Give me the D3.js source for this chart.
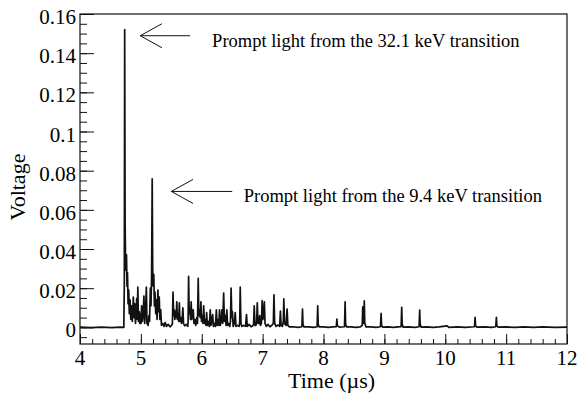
<!DOCTYPE html>
<html>
<head>
<meta charset="utf-8">
<script src="https://cdn.jsdelivr.net/npm/d3@7"></script>
<style>
body { margin: 0; background: #fff; }
svg text { font-family: "Liberation Serif"; fill: #000; }
</style>
</head>
<body>
<script>
// waveform: [time in us, voltage]
var trace = [
  [4.00,0.0001],[4.18,-0.0001],[4.35,0.0001],[4.52,-0.0001],[4.66,0.0001],[4.72,0.0],
  [4.728,0.022],[4.734,0.152],[4.741,0.054],[4.748,0.034],[4.756,0.029],[4.764,0.037],[4.772,0.021],[4.780,0.028],
  [4.790,0.012],[4.800,0.019],[4.810,0.007],[4.822,0.014],[4.835,0.004],[4.848,0.011],[4.860,0.003],[4.876,0.0155],
  [4.888,0.005],[4.900,0.012],[4.912,0.002],[4.922,0.009],[4.932,0.0147],[4.942,0.004],[4.950,0.0205],[4.960,0.003],
  [4.972,0.008],[4.982,0.002],[4.992,0.007],[5.002,0.002],[5.012,0.011],[5.024,0.003],[5.036,0.006],[5.050,0.016],
  [5.062,0.002],[5.076,0.008],[5.090,0.0205],[5.100,0.002],[5.118,0.001],[5.132,0.006],[5.142,0.003],[5.156,0.020],
  [5.166,0.011],[5.176,0.026],[5.186,0.0758],[5.194,0.030],[5.202,0.021],[5.212,0.027],[5.222,0.011],[5.232,0.018],
  [5.244,0.007],[5.256,0.014],[5.266,0.004],[5.280,0.019],[5.290,0.008],[5.302,0.0155],[5.312,0.004],[5.326,0.009],
  [5.338,0.001],[5.360,0.002],[5.380,0.0005],[5.400,0.0025],[5.420,0.0005],[5.450,0.0015],[5.480,0.0003],[5.505,0.001],
  [5.518,0.002],[5.528,0.018],[5.538,0.006],[5.548,0.009],[5.558,0.004],[5.568,0.008],[5.578,0.005],[5.590,0.013],
  [5.600,0.004],[5.612,0.007],[5.622,0.003],[5.632,0.0125],[5.642,0.003],[5.655,0.005],[5.668,0.002],[5.682,0.006],
  [5.690,0.010],[5.700,0.002],[5.720,0.0008],[5.750,0.0015],[5.770,0.0005],
  [5.776,0.003],[5.784,0.026],[5.794,0.007],[5.806,0.010],[5.816,0.004],[5.826,0.013],[5.836,0.004],[5.848,0.007],
  [5.860,0.009],[5.872,0.002],[5.888,0.004],[5.902,0.001],[5.918,0.005],[5.930,0.002],[5.942,0.025],[5.952,0.006],
  [5.964,0.009],[5.976,0.005],[5.986,0.013],[5.996,0.003],[6.010,0.006],[6.020,0.002],[6.032,0.011],[6.044,0.002],
  [6.058,0.004],[6.070,0.001],[6.080,0.0075],[6.092,0.001],[6.110,0.003],[6.124,0.0005],[6.140,0.009],[6.152,0.001],
  [6.166,0.003],[6.180,0.0065],[6.192,0.0005],[6.210,0.002],[6.225,0.0005],[6.240,0.009],[6.252,0.001],[6.268,0.004],
  [6.280,0.001],[6.292,0.009],[6.304,0.001],[6.318,0.003],[6.332,0.009],[6.344,0.002],[6.360,0.0175],[6.372,0.003],
  [6.388,0.006],[6.400,0.001],[6.412,0.009],[6.424,0.001],[6.440,0.002],[6.460,0.0005],[6.472,0.003],[6.482,0.020],
  [6.494,0.005],[6.504,0.008],[6.516,0.0005],[6.535,0.002],[6.550,0.0075],[6.562,0.0005],[6.590,0.001],[6.615,0.0005],
  [6.624,0.003],[6.632,0.0205],[6.644,0.002],[6.660,0.0005],[6.690,0.001],[6.720,0.0005],[6.735,0.0065],[6.748,0.0005],
  [6.780,0.0015],[6.810,0.0003],[6.840,0.0008],[6.852,0.002],[6.862,0.011],[6.874,0.001],[6.890,0.001],[6.902,0.003],
  [6.912,0.0125],[6.924,0.002],[6.940,0.002],[6.952,0.006],[6.964,0.001],[6.980,0.002],[6.992,0.0136],[7.004,0.004],
  [7.016,0.006],[7.028,0.013],[7.040,0.002],[7.060,0.0005],[7.090,0.0015],[7.120,0.0003],[7.150,0.001],[7.176,0.002],
  [7.186,0.0166],[7.198,0.002],[7.220,0.0005],[7.250,0.0012],[7.280,0.0005],[7.292,0.0083],[7.304,0.001],[7.325,0.0005],
  [7.340,0.003],[7.348,0.0145],[7.360,0.002],[7.385,0.001],[7.402,0.0093],[7.414,0.001],[7.440,0.0002],[7.500,0.0003],
  [7.580,0.0],[7.645,0.0003],[7.655,0.0093],[7.663,0.0015],[7.680,0.0002],[7.760,0.0002],[7.840,0.0],
  [7.895,0.0003],[7.905,0.011],[7.913,0.0015],[7.930,0.0002],[8.000,0.0002],[8.080,0.0],[8.150,0.0002],
  [8.210,0.0003],[8.220,0.0042],[8.228,0.0008],[8.260,0.0001],[8.345,0.0003],[8.355,0.013],[8.363,0.0015],[8.380,0.0002],
  [8.450,0.0002],[8.530,0.0],[8.600,0.0002],[8.636,0.001],[8.645,0.0105],[8.652,0.003],[8.662,0.002],[8.670,0.0135],
  [8.678,0.002],[8.700,0.0002],[8.780,0.0002],[8.860,0.0],[8.936,0.0003],[8.946,0.0071],[8.954,0.001],[8.975,0.0001],
  [9.060,0.0002],[9.150,0.0],[9.220,0.0002],[9.275,0.0003],[9.285,0.0102],[9.293,0.0015],[9.310,0.0001],[9.400,0.0002],
  [9.500,0.0],[9.570,0.0003],[9.580,0.0088],[9.588,0.0015],[9.605,0.0001],[9.700,0.0002],[9.800,0.0],[9.900,0.0002],
  [10.030,0.0008],[10.060,0.0],[10.200,0.0002],[10.330,0.0],[10.480,0.0003],[10.490,0.0051],[10.498,0.0008],
  [10.520,0.0001],[10.650,0.0002],[10.760,0.0],[10.830,0.0003],[10.840,0.0051],[10.848,0.0008],[10.870,0.0001],
  [11.000,0.0002],[11.150,0.0],[11.300,0.0002],[11.450,0.0],[11.600,0.0002],[11.800,0.0],[12.00,0.0001]
];

var xTickValues = [4, 5, 6, 7, 8, 9, 10, 11, 12];
var yTickValues = [0, 0.02, 0.04, 0.06, 0.08, 0.1, 0.12, 0.14, 0.16];
var yTickLabels = ["0", "0.02", "0.04", "0.06", "0.08", "0.1", "0.12", "0.14", "0.16"];

// arrows: tip and tail in data coordinates, text start in data coordinates
var notes = [
  {tip: 4.99, tail: 5.81, v: 0.1489, textX: 6.17, text: "Prompt light from the 32.1 keV transition"},
  {tip: 5.5, tail: 6.5, v: 0.0694, textX: 6.69, text: "Prompt light from the 9.4 keV transition"}
];

var margin = {top: 14, right: 12, bottom: 52, left: 80},
    width = 579 - margin.left - margin.right,
    height = 396 - margin.top - margin.bottom;

var svg = d3.select("body").append("svg")
    .attr("width", 579)
    .attr("height", 396);
var canvas = svg.append("g")
    .attr("transform", `translate(${margin.left},${margin.top})`);

var x = d3.scaleLinear().domain([4, 12]).range([0, width]);
var y = d3.scaleLinear().domain([-0.0085, 0.16]).range([height, 0]);

canvas.append("clipPath").attr("id", "frameClip")
  .append("rect").attr("width", width).attr("height", height);

// the trace
var line = d3.line()
    .x(function (d) { return x(d[0]); })
    .y(function (d) { return y(d[1]); });
canvas.append("path")
    .datum(trace)
    .attr("clip-path", "url(#frameClip)")
    .attr("d", line)
    .attr("fill", "none")
    .attr("stroke", "#111")
    .attr("stroke-width", 1.7)
    .attr("stroke-linejoin", "round");

// ticks drawn inside the frame, ROOT style (labels added separately below)
canvas.append("g")
    .call(d3.axisLeft(y).tickValues(d3.range(-0.005, 0.1601, 0.005)).tickSize(-7).tickSizeOuter(0).tickFormat(""));
canvas.append("g")
    .attr("transform", `translate(0,${height})`)
    .call(d3.axisBottom(x).tickValues(d3.range(4, 12.001, 0.2)).tickSize(-5).tickSizeOuter(0).tickFormat(""));
canvas.append("g")
    .call(d3.axisLeft(y).tickValues(yTickValues).tickSize(-14).tickSizeOuter(0).tickFormat(""));
canvas.append("g")
    .attr("transform", `translate(0,${height})`)
    .call(d3.axisBottom(x).tickValues(xTickValues).tickSize(-10).tickSizeOuter(0).tickFormat(""));
canvas.selectAll(".domain").remove();
canvas.selectAll(".tick line").attr("stroke", "#111");
canvas.selectAll(".tick text").remove();

// tick labels
canvas.selectAll(".ylab").data(yTickValues).enter().append("text")
    .attr("class", "ylab")
    .attr("x", -4)
    .attr("y", function (d) { return y(d) + 10; })
    .attr("text-anchor", "end")
    .style("font-size", "21px")
    .text(function (d, i) { return yTickLabels[i]; });
canvas.selectAll(".xlab").data(xTickValues).enter().append("text")
    .attr("class", "xlab")
    .attr("x", function (d) { return x(d); })
    .attr("y", height + 21)
    .attr("text-anchor", "middle")
    .style("font-size", "21px")
    .text(function (d) { return d; });

// frame
canvas.append("rect")
    .attr("width", width)
    .attr("height", height)
    .attr("fill", "none")
    .attr("stroke", "#111")
    .attr("stroke-width", 1.2);

// axis titles
canvas.append("text")
    .attr("x", 208)
    .attr("y", height + 44)
    .style("font-size", "22px")
    .text("Time (\u00b5s)");
canvas.append("text")
    .attr("transform", "rotate(-90)")
    .attr("x", -173)
    .attr("y", -55)
    .attr("text-anchor", "middle")
    .style("font-size", "22px")
    .text("Voltage");

// annotations
var note = canvas.selectAll(".note").data(notes).enter().append("g").attr("class", "note");
note.append("path")
    .attr("d", function (d) {
      var tx = x(d.tip), ty = y(d.v);
      return "M" + x(d.tail) + "," + ty + "L" + tx + "," + ty +
        "M" + (tx + 21.7) + "," + (ty - 12) + "L" + tx + "," + ty + "L" + (tx + 21.7) + "," + (ty + 12);
    })
    .attr("fill", "none")
    .attr("stroke", "#111")
    .attr("stroke-width", 1);
note.append("text")
    .attr("x", function (d) { return x(d.textX); })
    .attr("y", function (d) { return y(d.v) + 11; })
    .style("font-size", "18.5px")
    .text(function (d) { return d.text; });
</script>
</body>
</html>
